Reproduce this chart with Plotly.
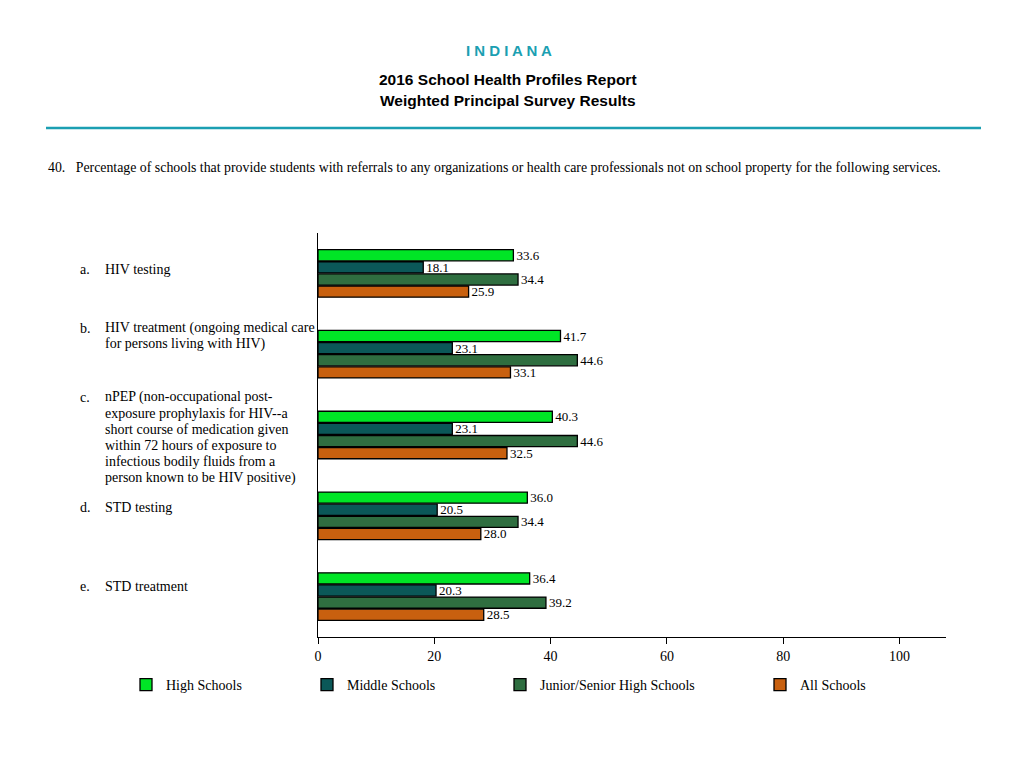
import plotly.graph_objects as go

# data
items = ["a", "b", "c", "d", "e"]
item_labels = [
    ["HIV testing"],
    ["HIV treatment (ongoing medical care", "for persons living with HIV)"],
    ["nPEP (non-occupational post-", "exposure prophylaxis for HIV--a", "short course of medication given",
     "within 72 hours of exposure to", "infectious bodily fluids from a", "person known to be HIV positive)"],
    ["STD testing"],
    ["STD treatment"],
]
series_names = ["High Schools", "Middle Schools", "Junior/Senior High Schools", "All Schools"]
high_schools = [33.6, 41.7, 40.3, 36.0, 36.4]
middle_schools = [18.1, 23.1, 23.1, 20.5, 20.3]
junior_senior = [34.4, 44.6, 44.6, 34.4, 39.2]
all_schools = [25.9, 33.1, 32.5, 28.0, 28.5]
x_ticks = [0, 20, 40, 60, 80, 100]

colors = ["#00e526", "#0b5858", "#2f6e40", "#c8600f"]
SERIF = "Liberation Serif, Times New Roman, serif"
SANS = "Liberation Sans, Arial, sans-serif"
TEAL = "#1b9fb2"

# page is offset by the body margin, so work in page pixels and shift
OFF = 8
W, H = 1008, 752
PL, PR, PT, PB = 318, 946, 233, 637   # plot box in page pixels
ML, MT = PL - OFF, PT - OFF
MR, MB = W - (PR - OFF), H - (PB - OFF)


def py(p):
    return (PB - p) / (PB - PT)


def px(p):
    return (p - PL) / (PR - PL)


fig = go.Figure()
values = [high_schools, middle_schools, junior_senior, all_schools]
legend_ids = ["legend", "legend2", "legend3", "legend4"]
for name, vals, col, lg in zip(series_names, values, colors, legend_ids):
    fig.add_trace(go.Bar(
        y=items, x=vals, orientation="h", name=name,
        marker=dict(color=col, line=dict(color="black", width=1.3)),
        text=[f"{v:.1f}" for v in vals], textposition="outside",
        constraintext="none",
        textfont=dict(family=SERIF, size=13, color="black"),
        cliponaxis=False, legend=lg,
    ))

fig.update_layout(
    width=W, height=H,
    margin=dict(l=ML, r=MR, t=MT, b=MB),
    paper_bgcolor="white", plot_bgcolor="white",
    barmode="group", bargap=0.4, bargroupgap=0.08,
    showlegend=True,
    font=dict(family=SERIF, size=14, color="black"),
    xaxis=dict(range=[0, 108], tickvals=x_ticks, showgrid=False, zeroline=False,
               showline=True, linecolor="black", linewidth=1.3,
               ticks="outside", ticklen=6, tickcolor="black",
               tickfont=dict(family=SERIF, size=14)),
    yaxis=dict(autorange="reversed", showticklabels=False, showgrid=False,
               showline=True, linecolor="black", linewidth=1.3, ticks=""),
)

# legends, one per series so each sits where the reference puts it
legend_x = [126, 307, 500, 760]
for lg, lx in zip(legend_ids, legend_x):
    fig.layout[lg] = dict(x=px(lx), y=py(685), xanchor="left", yanchor="middle",
                          orientation="h", bgcolor="rgba(0,0,0,0)",
                          font=dict(family=SERIF, size=14))

# category labels (letter + one annotation per line)
label_top = [269, 328, 397, 507, 586]   # centre of first line, page px
line_step = 16.2
for letter, lines, top in zip(items, item_labels, label_top):
    fig.add_annotation(xref="paper", yref="paper", x=px(78), y=py(top),
                       xanchor="left", yanchor="middle", text=letter + ".",
                       showarrow=False, font=dict(family=SERIF, size=14))
    for i, line in enumerate(lines):
        fig.add_annotation(xref="paper", yref="paper", x=px(103), y=py(top + i * line_step),
                           xanchor="left", yanchor="middle", text=line,
                           showarrow=False, font=dict(family=SERIF, size=14))

# header
fig.add_annotation(xref="paper", yref="paper", x=px(509), y=py(50), xanchor="center",
                   yanchor="middle", text="I N D I A N A", showarrow=False,
                   font=dict(family=SANS, size=15, color=TEAL, weight="bold"))
fig.add_annotation(xref="paper", yref="paper", x=px(508), y=py(79), xanchor="center",
                   yanchor="middle", text="2016 School Health Profiles Report", showarrow=False,
                   font=dict(family=SANS, size=15.5, color="black", weight="bold"))
fig.add_annotation(xref="paper", yref="paper", x=px(508), y=py(101), xanchor="center",
                   yanchor="middle", text="Weighted Principal Survey Results", showarrow=False,
                   font=dict(family=SANS, size=15.5, color="black", weight="bold"))
fig.add_shape(type="line", xref="paper", yref="paper", x0=px(46), x1=px(981),
              y0=py(128), y1=py(128), line=dict(color=TEAL, width=2.5))
fig.add_annotation(xref="paper", yref="paper", x=px(46), y=py(167), xanchor="left",
                   yanchor="middle",
                   text="40.&nbsp;&nbsp;&nbsp;Percentage of schools that provide students with referrals to any "
                        "organizations or health care professionals not on school property for the following services.",
                   showarrow=False, font=dict(family=SERIF, size=13.85))

fig.write_html("out.html")
